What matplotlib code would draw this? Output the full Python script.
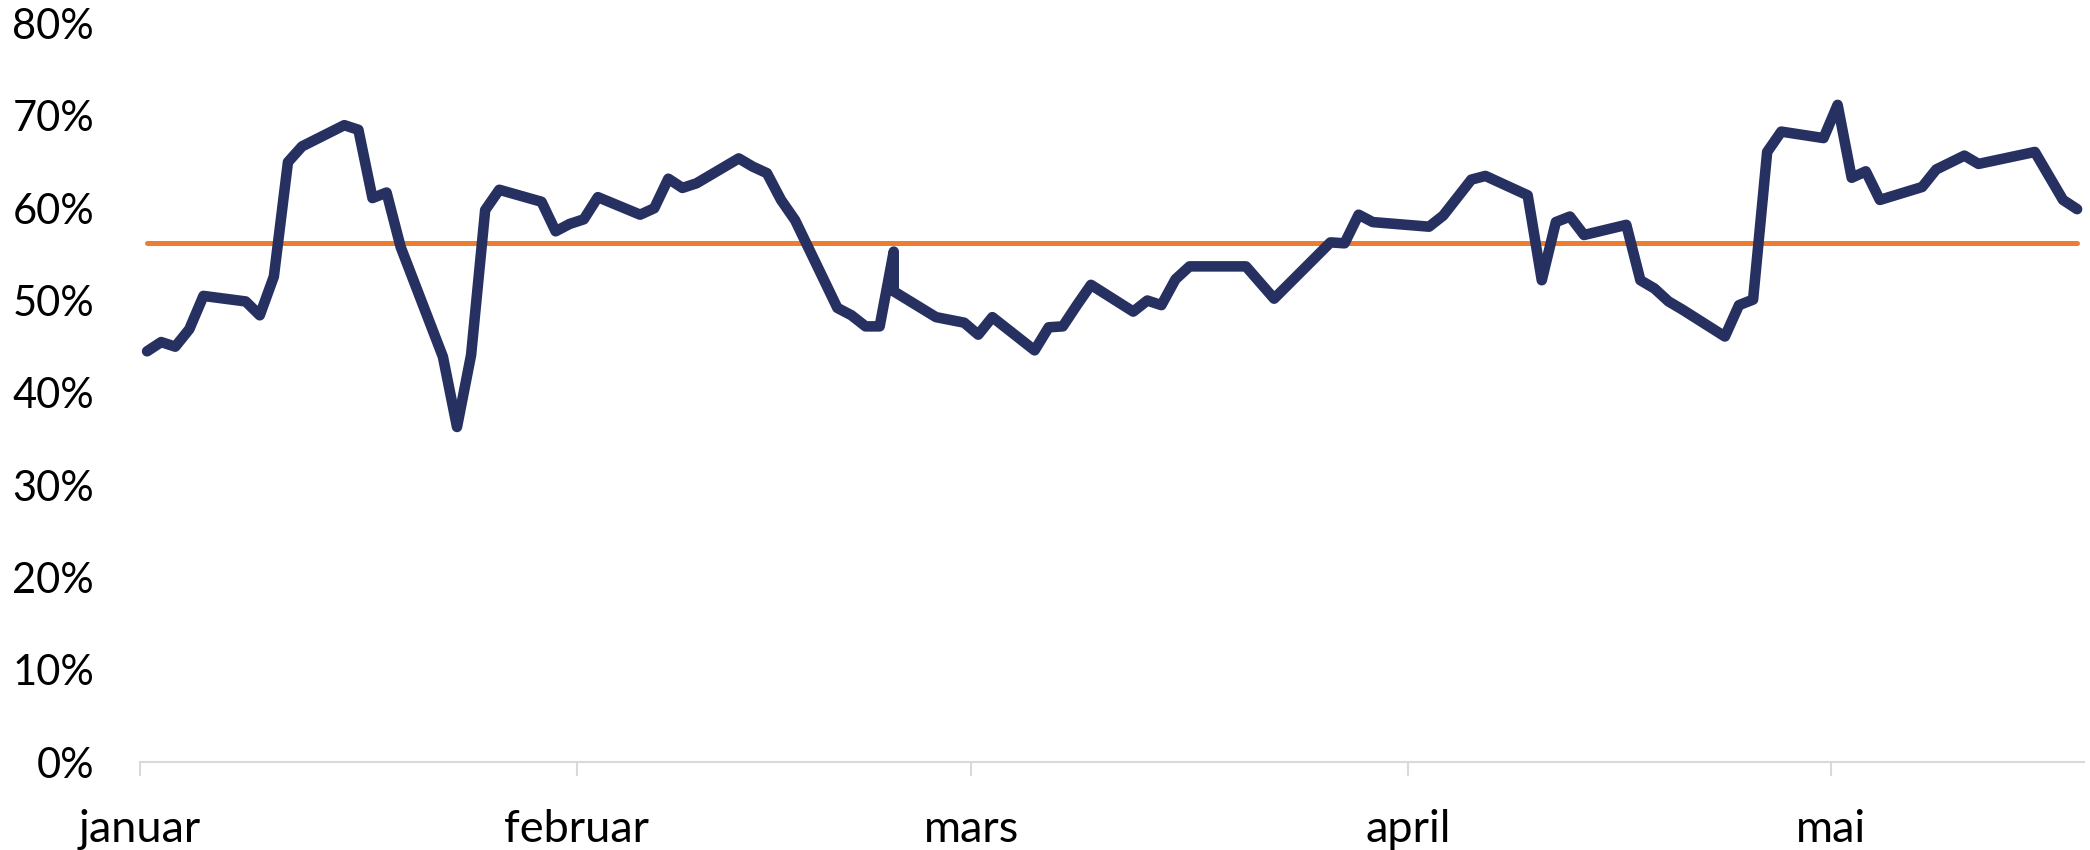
import matplotlib

matplotlib.use("Agg")
import matplotlib.pyplot as plt
import numpy as np
from matplotlib.ticker import PercentFormatter

# daily share (%), 2018 trading days
DATES = [
    "2018-01-01", "2018-01-02", "2018-01-03", "2018-01-04", "2018-01-05",
    "2018-01-08", "2018-01-09", "2018-01-10", "2018-01-11", "2018-01-12",
    "2018-01-15", "2018-01-16", "2018-01-17", "2018-01-18", "2018-01-19",
    "2018-01-22", "2018-01-23", "2018-01-24", "2018-01-25", "2018-01-26",
    "2018-01-29", "2018-01-30", "2018-01-31", "2018-02-01", "2018-02-02",
    "2018-02-05", "2018-02-06", "2018-02-07", "2018-02-08", "2018-02-09",
    "2018-02-12", "2018-02-13", "2018-02-14", "2018-02-15", "2018-02-16",
    "2018-02-19", "2018-02-20", "2018-02-21", "2018-02-22", "2018-02-23",
    "2018-02-23", "2018-02-26", "2018-02-28", "2018-03-01", "2018-03-02",
    "2018-03-05", "2018-03-06", "2018-03-07", "2018-03-08", "2018-03-09",
    "2018-03-12", "2018-03-13", "2018-03-14", "2018-03-15", "2018-03-16",
    "2018-03-20", "2018-03-22", "2018-03-26", "2018-03-27", "2018-03-28",
    "2018-03-29", "2018-04-02", "2018-04-03", "2018-04-05", "2018-04-06",
    "2018-04-09", "2018-04-10", "2018-04-11", "2018-04-12", "2018-04-13",
    "2018-04-16", "2018-04-17", "2018-04-18", "2018-04-19", "2018-04-20",
    "2018-04-23", "2018-04-24", "2018-04-25", "2018-04-26", "2018-04-27",
    "2018-04-30", "2018-05-01", "2018-05-02", "2018-05-03", "2018-05-04",
    "2018-05-07", "2018-05-08", "2018-05-10", "2018-05-11", "2018-05-15",
    "2018-05-17", "2018-05-18",
]
SHARE = [
    44.5, 45.5, 45.0, 46.9, 50.5,
    49.9, 48.4, 52.6, 65.0, 66.7,
    69.0, 68.5, 61.1, 61.7, 55.8,
    43.9, 36.3, 44.1, 59.8, 62.0,
    60.7, 57.5, 58.3, 58.8, 61.2,
    59.3, 60.0, 63.2, 62.2, 62.7,
    65.4, 64.5, 63.8, 60.9, 58.7,
    49.2, 48.4, 47.2, 47.2, 55.3,
    51.0, 48.2, 47.6, 46.3, 48.2,
    44.6, 47.1, 47.2, 49.5, 51.7,
    48.8, 50.0, 49.5, 52.3, 53.7,
    53.7, 50.2, 56.3, 56.2, 59.3,
    58.5, 58.0, 59.2, 63.1, 63.5,
    61.4, 52.2, 58.5, 59.1, 57.1,
    58.2, 52.2, 51.3, 49.9, 49.0,
    46.1, 49.5, 50.1, 66.1, 68.3,
    67.6, 71.2, 63.3, 64.0, 60.9,
    62.3, 64.2, 65.7, 64.8, 66.1,
    60.9, 59.9,
]
AVERAGE = 56.2

MONTH_STARTS = ["2018-01-01", "2018-02-01", "2018-03-01", "2018-04-01", "2018-05-01"]
MONTH_LABELS = ["januar", "februar", "mars", "april", "mai"]
Y_TICKS = [0, 10, 20, 30, 40, 50, 60, 70, 80]

NAVY = "#263161"
ORANGE = "#ED7D31"
AXIS_GREY = "#D9D9D9"

plt.rcParams["font.family"] = ["Lato", "DejaVu Sans"]

# Excel-style date axis: each point sits in the middle of its day slot
dates = np.array(DATES, dtype="datetime64[h]") + np.timedelta64(12, "h")

fig = plt.figure(figsize=(20.9, 8.5), dpi=100)
ax = fig.add_axes([0.067, 0.1035, 0.9302, 0.8687])

ax.plot(dates, SHARE, color=NAVY, linewidth=7.6,
        solid_joinstyle="round", solid_capstyle="round", zorder=3)
ax.plot([dates[0], dates[-1]], [AVERAGE, AVERAGE], color=ORANGE,
        linewidth=3.6, solid_capstyle="round", zorder=2)

ax.set_xlim(np.datetime64("2018-01-01"), np.datetime64("2018-05-19"))
ax.set_ylim(0, 80)

ax.set_xticks(np.array(MONTH_STARTS, dtype="datetime64[D]"))
ax.set_xticklabels(MONTH_LABELS)
ax.set_yticks(Y_TICKS)
ax.yaxis.set_major_formatter(PercentFormatter(xmax=100, decimals=0))

for side in ["top", "right", "left"]:
    ax.spines[side].set_visible(False)
ax.spines["bottom"].set_color(AXIS_GREY)
ax.spines["bottom"].set_linewidth(1.5)

ax.tick_params(axis="x", direction="out", length=10, width=1.5,
               color=AXIS_GREY, pad=24, labelsize=32.5, labelcolor="black")
ax.tick_params(axis="y", length=0, pad=33, labelsize=30, labelcolor="black")

fig.savefig("out.png", dpi=100)
